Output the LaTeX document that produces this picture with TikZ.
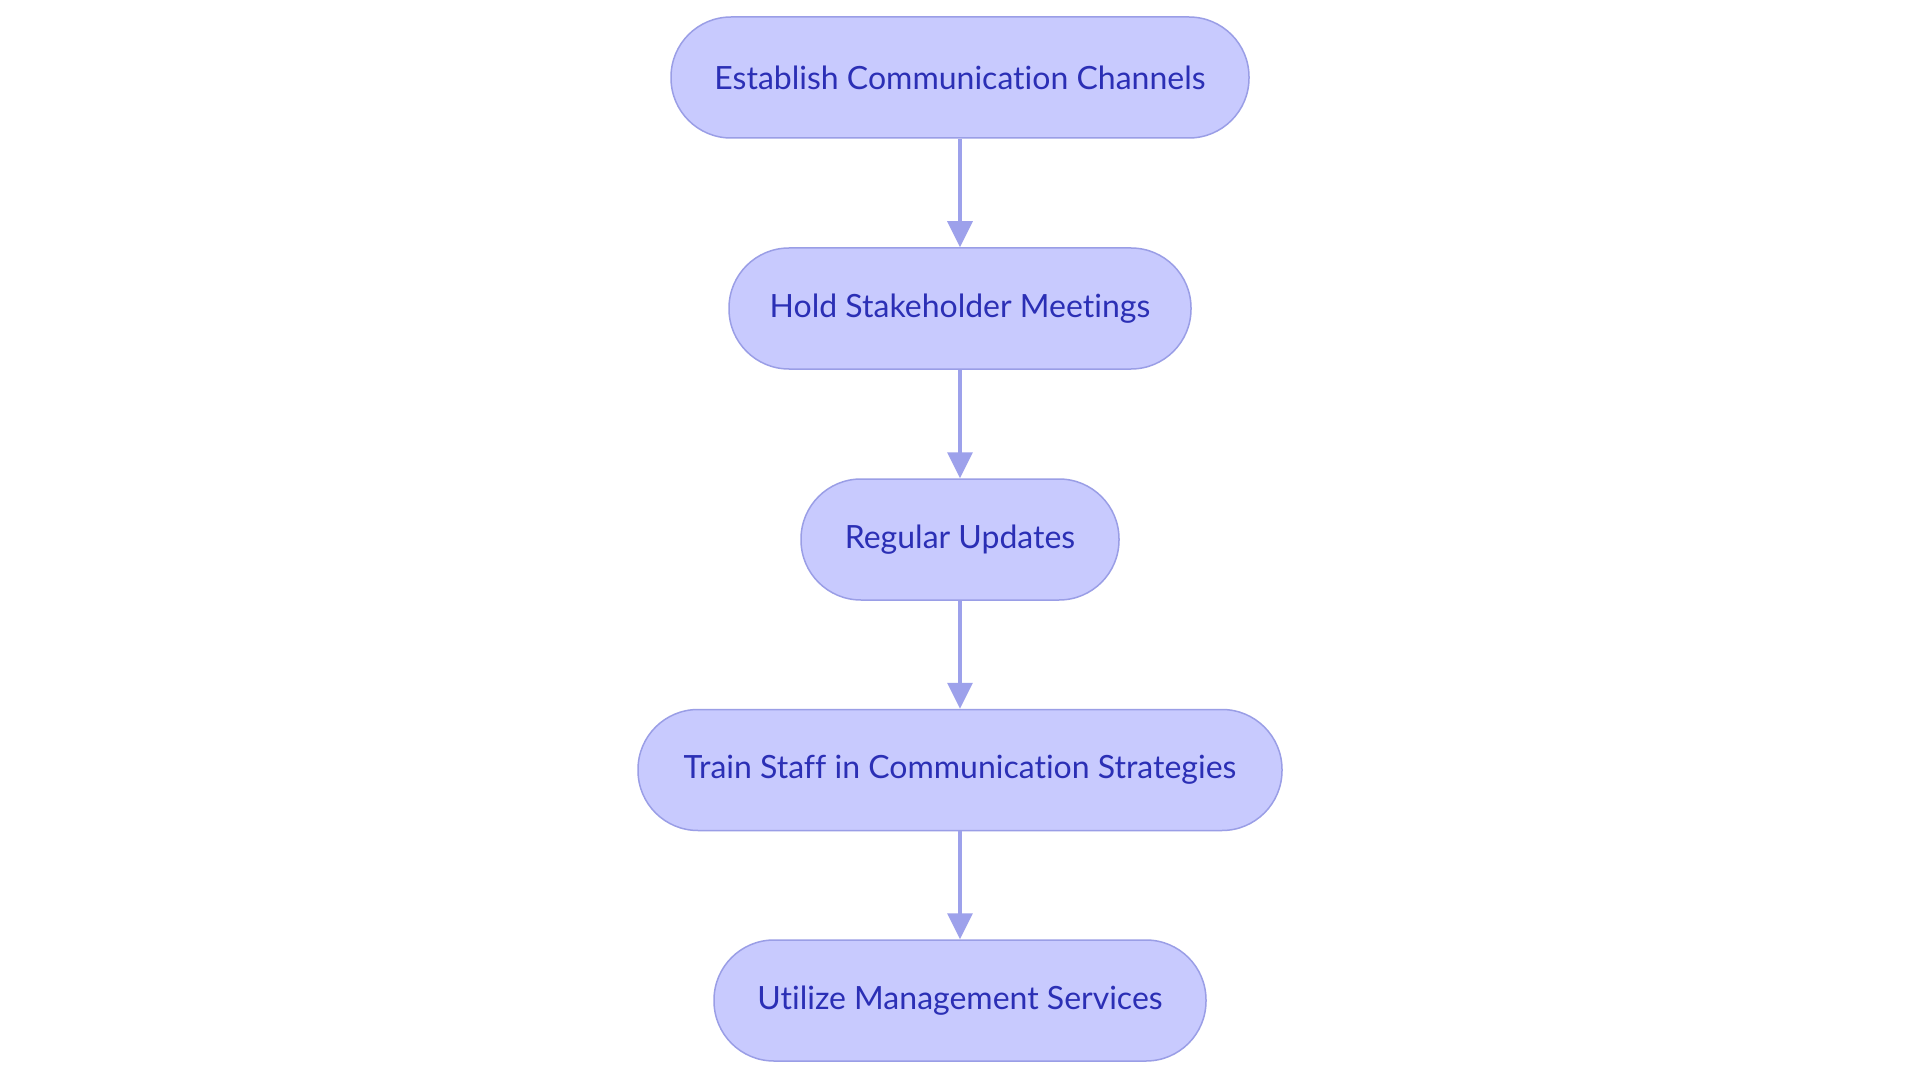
\documentclass[tikz,border=0pt]{standalone}
\usepackage{fontspec}
\setmainfont[Ligatures={NoCommon}]{Lato}
\usetikzlibrary{arrows.meta}
\definecolor{boxfill}{HTML}{C8CAFE}
\definecolor{boxline}{HTML}{9A9EE6}
\definecolor{boxtext}{HTML}{2B2FB5}
\definecolor{arrowcol}{HTML}{9DA1EB}
\tikzset{
  stepbox/.style={draw=boxline, line width=1.5pt, fill=boxfill, rounded corners=60pt,
    minimum height=121pt, inner sep=0pt, text=boxtext,
    font=\fontsize{32pt}{38pt}\selectfont},
  flow/.style={draw=arrowcol, line width=3.5pt,
    -{Triangle[length=26pt,width=25pt]}}
}
\begin{document}
\begin{tikzpicture}[x=1pt,y=-1pt]
\useasboundingbox[fill=white] (0,0) rectangle (1920,1083);
\node[stepbox, minimum width=578pt] (a) at (960,77.5) {Establish Communication Channels};
\node[stepbox, minimum width=462pt] (b) at (960,308.5) {Hold Stakeholder Meetings};
\node[stepbox, minimum width=318pt] (c) at (960,539.5) {Regular Updates};
\node[stepbox, minimum width=644pt] (d) at (960,770) {Train Staff in Communication Strategies};
\node[stepbox, minimum width=492pt] (e) at (960,1000.5) {Utilize Management Services};
\draw[flow] (a) -- (b);
\draw[flow] (b) -- (c);
\draw[flow] (c) -- (d);
\draw[flow] (d) -- (e);
\end{tikzpicture}
\end{document}
